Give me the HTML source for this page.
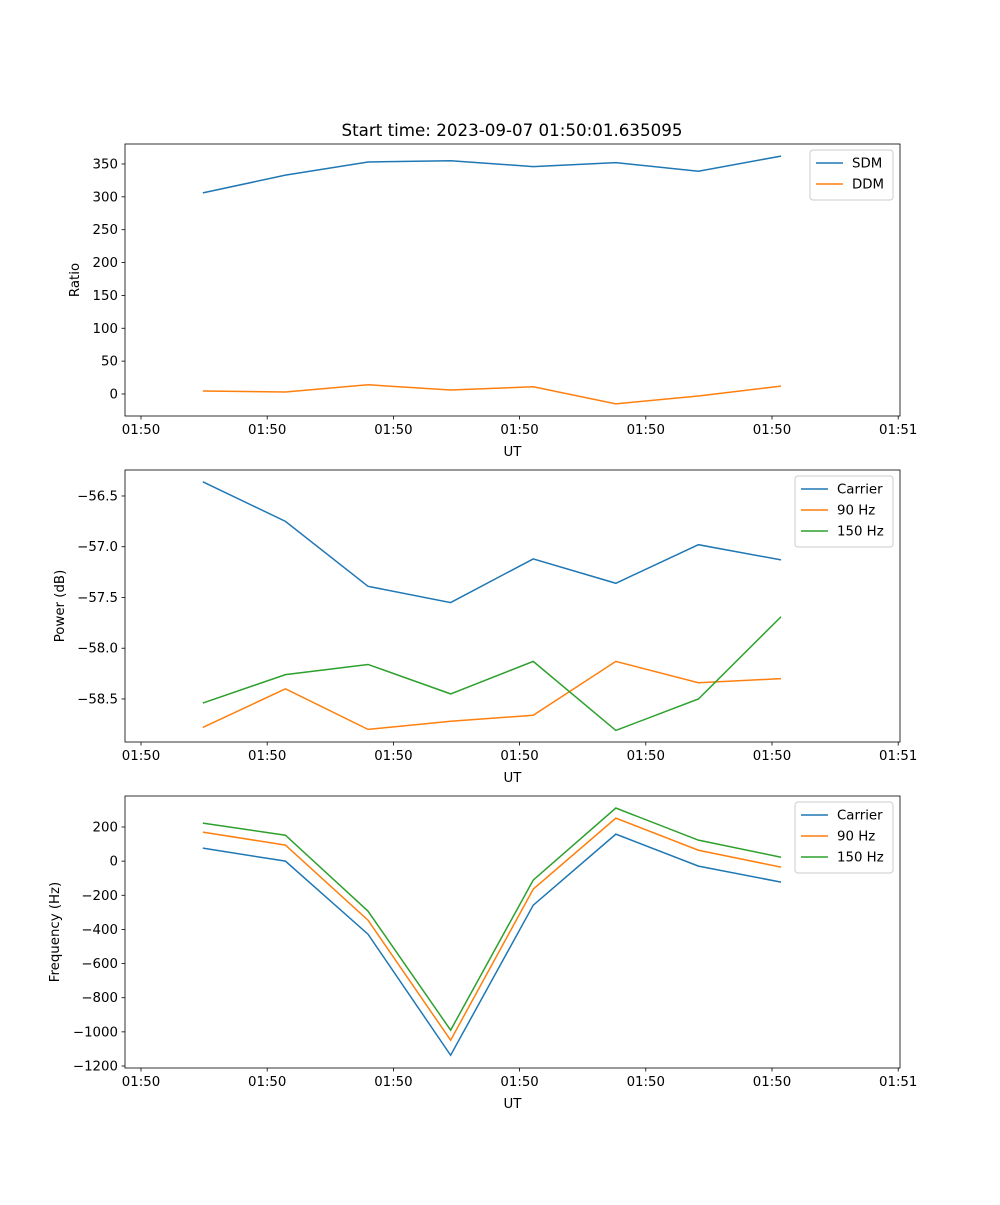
<!DOCTYPE html>
<html><head><meta charset="utf-8"><style>
body{margin:0;background:#fff}
svg text{font-family:"DejaVu Sans","Liberation Sans",sans-serif;font-size:13.33px;fill:#000}
</style></head><body>
<svg id="fig" width="1000" height="1200" xmlns="http://www.w3.org/2000/svg"></svg>
<script>
const xTickLabels=["01:50","01:50","01:50","01:50","01:50","01:50","01:51"];
const xPoints=[0,1,2,3,4,5,6,7];
const sdm=[306,333,353,355,346,352,339,362];
const ddm=[4.6,3,14,6,11,-15,-3,12];
const pCarrier=[-56.36,-56.75,-57.39,-57.55,-57.12,-57.36,-56.98,-57.13];
const p90=[-58.78,-58.40,-58.80,-58.72,-58.66,-58.13,-58.34,-58.30];
const p150=[-58.54,-58.26,-58.16,-58.45,-58.13,-58.81,-58.50,-57.69];
const fCarrier=[76,0,-428,-1137,-258,158,-29,-123];
const f90=[170,94,-346,-1049,-164,252,64,-35];
const f150=[223,152,-293,-990,-111,311,123,23];
const yTicks1=[0,50,100,150,200,250,300,350];
const yTicks2=[-58.5,-58.0,-57.5,-57.0,-56.5];
const yTicks3=[-1200,-1000,-800,-600,-400,-200,0,200];

const svg=document.getElementById('fig');
const NS='http://www.w3.org/2000/svg';
function mk(tag,attrs,parent){const e=document.createElementNS(NS,tag);for(const k in attrs)e.setAttribute(k,attrs[k]);(parent||svg).appendChild(e);return e;}
const L=125,R=900;
const xmin=(L-141)/126.2, xmax=(R-141)/126.2;
function xs(u){return L+(u-xmin)/(xmax-xmin)*(R-L);}
function ptU(i){return 0.49+0.6545*i;}
const C=['#1f77b4','#ff7f0e','#2ca02c'];

function panel(name,top,bot,ymin,ymax,yTicks,fmt,ylabel,series,labels,legendW){
  const g=mk('g',{});
  
  
  const ys=v=>bot-(v-ymin)/(ymax-ymin)*(bot-top);
  series.forEach((s,si)=>{
    const d=s.map((v,i)=>(i?'L':'M')+xs(ptU(xPoints[i])).toFixed(2)+','+ys(v).toFixed(2)).join(' ');
    const p=mk('path',{d:d,fill:'none',stroke:C[si],'stroke-width':1.5},g);
    
    
  });
  const fr=mk('rect',{x:L,y:top,width:R-L,height:bot-top,fill:'none',stroke:'#000','stroke-width':0.8},g);
  
  
  xTickLabels.forEach((t,k)=>{
    const x=xs(k);
    mk('line',{x1:x,x2:x,y1:bot,y2:bot+3.5,stroke:'#000','stroke-width':0.8},g);
    const tx=mk('text',{x:x,y:bot+18,'text-anchor':'middle'},g);tx.textContent=t;
    
    
  });
  const xl=mk('text',{x:(L+R)/2,y:bot+40,'text-anchor':'middle'},g);xl.textContent='UT';
  
  
  yTicks.forEach(v=>{
    const y=ys(v);
    mk('line',{x1:L,x2:L-3.5,y1:y,y2:y,stroke:'#000','stroke-width':0.8},g);
    const tx=mk('text',{x:L-7,y:y+4.5,'text-anchor':'end'},g);tx.textContent=fmt(v);
    
    
  });
  const yl=mk('text',{x:0,y:0,'text-anchor':'middle',transform:`translate(${ylabel[1]},${(top+bot)/2}) rotate(-90)`},g);yl.textContent=ylabel[0];
  
  
  const lx=R-7-legendW, ly=top+6, lh=8+labels.length*21;
  const lg=mk('g',{},g);
  
  
  mk('rect',{x:lx,y:ly,width:legendW,height:lh,rx:3,fill:'#fff','fill-opacity':0.8,stroke:'#ccc'},lg);
  labels.forEach((lab,i)=>{
    const yy=ly+13+i*21;
    mk('line',{x1:lx+6,x2:lx+33,y1:yy,y2:yy,stroke:C[i],'stroke-width':1.5},lg);
    const t=mk('text',{x:lx+42,y:yy+4.5},lg);t.textContent=lab;
    
    
  });
}
const title=mk('text',{x:512,y:136,'text-anchor':'middle',style:'font-size:16.7px'});
title.textContent='Start time: 2023-09-07 01:50:01.635095';


panel('ratio-panel',144,416,-33.5,380.4,yTicks1,v=>String(v),['Ratio',79],[sdm,ddm],['SDM','DDM'],83);
panel('power-panel',470,742,-58.924,-56.244,yTicks2,v=>v.toFixed(1).replace('-','−'),['Power (dB)',64],[pCarrier,p90,p150],['Carrier','90 Hz','150 Hz'],98);
panel('frequency-panel',796,1068,-1211.7,381.6,yTicks3,v=>String(v).replace('-','−'),['Frequency (Hz)',59],[fCarrier,f90,f150],['Carrier','90 Hz','150 Hz'],98);
</script>
</body></html>
